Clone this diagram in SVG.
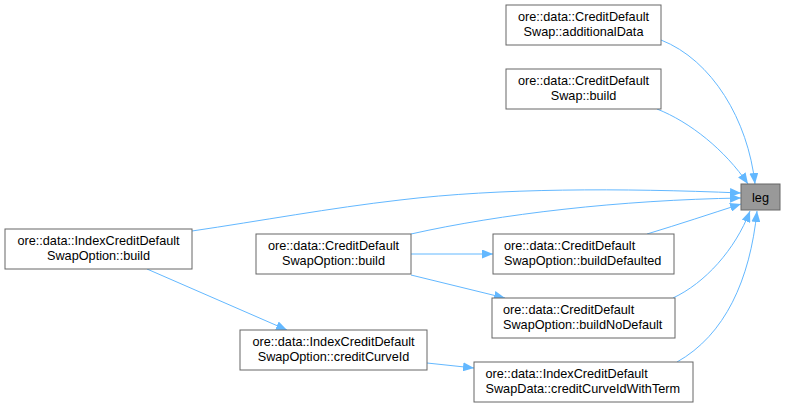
<svg xmlns="http://www.w3.org/2000/svg" width="785" height="408" viewBox="0 0 785 408">
<style>
  .box { fill: #ffffff; stroke: #666666; stroke-width: 1; }
  .cur { fill: #999999; stroke: #666666; stroke-width: 1; }
  text { font-family: "Liberation Sans", Arial, sans-serif; font-size: 12.7px; fill: #000000; }
  .c { text-anchor: middle; }
  .l { text-anchor: start; }
  .edge { fill: none; stroke: #63b8ff; stroke-width: 1; marker-end: url(#arr); }
</style>
<defs>
  <marker id="arr" viewBox="0 0 11 9" refX="11" refY="4.5" markerWidth="11" markerHeight="9" markerUnits="userSpaceOnUse" orient="auto">
    <path d="M0,0 L11,4.5 L0,9 z" fill="#63b8ff"/>
  </marker>
</defs>
<rect width="785" height="408" fill="#ffffff"/>
<g id="edges">
  <path class="edge" d="M661,40 C712,60 748,120 755,184"/>
  <path class="edge" d="M657,109 C690,122 725,150 748,184"/>
  <path class="edge" d="M192,231 C260,221 330,208 400,200 C500,188 620,188 741,193"/>
  <path class="edge" d="M411,234 C500,214 620,200 741,198"/>
  <path class="edge" d="M647,234 C680,224 710,214 741,204"/>
  <path class="edge" d="M673,298 C705,283 735,250 750,211"/>
  <path class="edge" d="M677,362 C725,335 750,280 757,211"/>
  <path class="edge" d="M411,254 L493,254"/>
  <path class="edge" d="M411,275 L505,298"/>
  <path class="edge" d="M147,269 L287,330"/>
  <path class="edge" d="M427,363 L474,368"/>
</g>
<g id="node_leg">
  <rect class="cur" x="741" y="184" width="39" height="26"/>
  <text class="c" x="760.5" y="201.5">leg</text>
</g>
<g id="node_cds_additionalData">
  <rect class="box" x="506" y="5" width="155" height="40"/>
  <text class="c" x="583.5" y="21">ore::data::CreditDefault</text>
  <text class="c" x="583.5" y="36">Swap::additionalData</text>
</g>
<g id="node_cds_build">
  <rect class="box" x="506" y="69" width="155" height="40"/>
  <text class="c" x="583.5" y="85">ore::data::CreditDefault</text>
  <text class="c" x="583.5" y="100">Swap::build</text>
</g>
<g id="node_icdso_build">
  <rect class="box" x="5" y="229" width="187" height="40"/>
  <text class="c" x="98.5" y="245">ore::data::IndexCreditDefault</text>
  <text class="c" x="98.5" y="260">SwapOption::build</text>
</g>
<g id="node_cdso_build">
  <rect class="box" x="256" y="234" width="155" height="40"/>
  <text class="c" x="333.5" y="250">ore::data::CreditDefault</text>
  <text class="c" x="333.5" y="265">SwapOption::build</text>
</g>
<g id="node_cdso_buildDefaulted">
  <rect class="box" x="493" y="234" width="181" height="40"/>
  <text class="l" x="504" y="250">ore::data::CreditDefault</text>
  <text class="l" x="504" y="265">SwapOption::buildDefaulted</text>
</g>
<g id="node_cdso_buildNoDefault">
  <rect class="box" x="492" y="298" width="183" height="40"/>
  <text class="l" x="503" y="314">ore::data::CreditDefault</text>
  <text class="l" x="503" y="329">SwapOption::buildNoDefault</text>
</g>
<g id="node_icdso_creditCurveId">
  <rect class="box" x="240" y="330" width="187" height="40"/>
  <text class="c" x="333.5" y="346">ore::data::IndexCreditDefault</text>
  <text class="c" x="333.5" y="361">SwapOption::creditCurveId</text>
</g>
<g id="node_icdsd_creditCurveIdWithTerm">
  <rect class="box" x="474" y="362" width="219" height="40"/>
  <text class="l" x="485.5" y="378">ore::data::IndexCreditDefault</text>
  <text class="l" x="485.5" y="393">SwapData::creditCurveIdWithTerm</text>
</g>
</svg>
